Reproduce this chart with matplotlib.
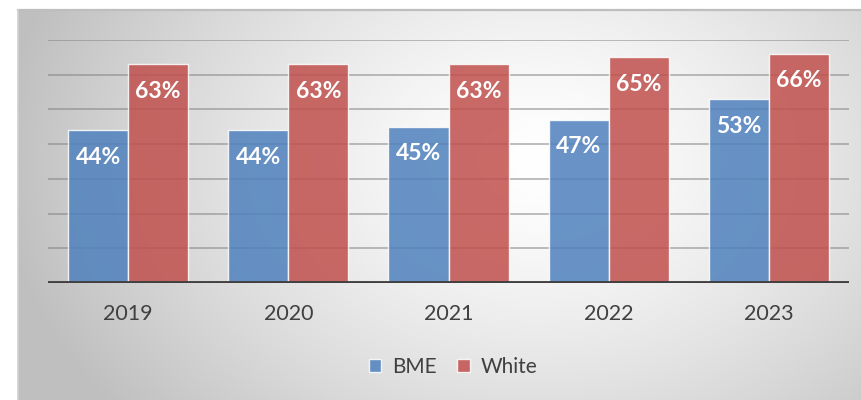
import numpy as np
import matplotlib.pyplot as plt
from matplotlib.patches import Patch

plt.rcParams['font.family'] = ['Lato', 'DejaVu Sans']

years = ['2019', '2020', '2021', '2022', '2023']
bme = [44, 44, 45, 47, 53]
white = [63, 63, 63, 65, 66]
series_names = ['BME', 'White']
grid_levels = [10, 20, 30, 40, 50, 60, 70]

blue = '#4F81BD'
red = '#C0504D'

fig = plt.figure(figsize=(8.61, 4.0), dpi=100)

# gradient background panel (chart area)
bg = fig.add_axes([18/861, 0, 1 - 18/861, 390/400], zorder=0)
h, w = 390, 843
yy, xx = np.mgrid[0:h, 0:w]
cx, cy = 520, 150
r = np.sqrt(((xx - cx) / 540.0) ** 2 + ((yy - cy) / 400.0) ** 2)
shade = 1.0 - 0.25 * np.clip(r, 0, 1) ** 1.4
img = np.dstack([shade, shade, shade])
bg.imshow(img, aspect='auto', origin='upper', extent=[0, 1, 0, 1])
bg.set_xlim(0, 1); bg.set_ylim(0, 1)
bg.axis('off')
bg.plot([0, 1], [1, 1], color='#BEBEBE', lw=1.6, transform=bg.transAxes, clip_on=False)
bg.plot([0, 0], [0, 1], color='#D0D0D0', lw=1.2, transform=bg.transAxes, clip_on=False)

ax = fig.add_axes([48/861, 117/400, 801/861, 243/400], zorder=1)
ax.patch.set_alpha(0)
x = np.arange(len(years))
bw = 0.375

for g in grid_levels:
    ax.axhline(g, color='#7F7F7F', lw=1.3, alpha=0.55, zorder=1)

b1 = ax.bar(x - bw/2, bme, bw, color=blue, alpha=0.85, edgecolor=(1, 1, 1, 0.6), lw=1.0, zorder=2)
b2 = ax.bar(x + bw/2, white, bw, color=red, alpha=0.85, edgecolor=(1, 1, 1, 0.6), lw=1.0, zorder=2)

for bars, vals in [(b1, bme), (b2, white)]:
    for rect, v in zip(bars, vals):
        ax.annotate(f'{v}%', (rect.get_x() + rect.get_width()/2, v), xytext=(0, -19.5),
                    textcoords='offset points', ha='center', va='center',
                    color='white', fontsize=16.5, fontweight='bold', zorder=3)

ax.axhline(0, color='#404040', lw=3.5, zorder=3)
ax.set_xlim(-0.5, len(years) - 0.5)
ax.set_ylim(0, 70)
ax.set_xticks(x)
ax.set_xticklabels(years, fontsize=15.5, color='#404040')
ax.tick_params(axis='x', length=0, pad=15)
ax.set_yticks([])
for s in ax.spines.values():
    s.set_visible(False)

handles = [Patch(facecolor=blue, alpha=0.85, edgecolor=(1, 1, 1, 0.6)),
           Patch(facecolor=red, alpha=0.85, edgecolor=(1, 1, 1, 0.6))]
fig.legend(handles, series_names, loc='center', bbox_to_anchor=(453/861, 1 - 367/400),
           ncol=2, frameon=False, fontsize=15, handlelength=0.6, handleheight=0.6,
           handletextpad=0.5, columnspacing=1.0, labelcolor='#404040')

fig.savefig('out.png', dpi=100)
